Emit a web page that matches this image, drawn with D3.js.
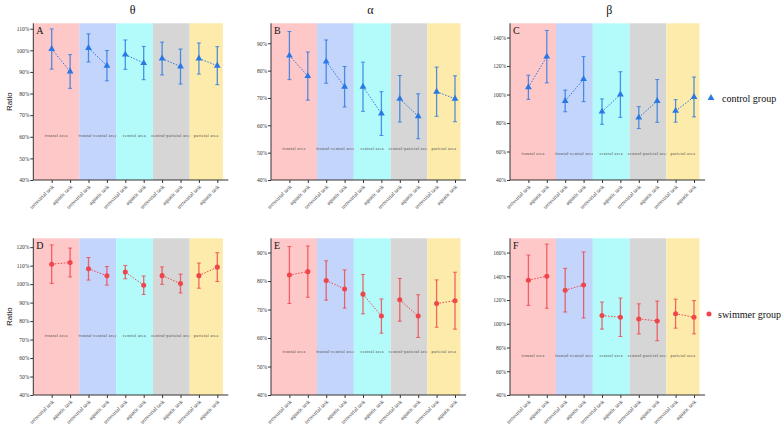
<!DOCTYPE html>
<html>
<head>
<meta charset="utf-8">
<script src="https://cdn.jsdelivr.net/npm/d3@7"></script>
<style>
  body { margin: 0; background: #fff; }
  svg { font-family: "Liberation Serif", "DejaVu Serif", serif; }
</style>
</head>
<body>
<div id="chart"></div>
<script>
// task labels (x categories), repeated for each band
var tasks = ["terrestrial task", "aquatic task"];
var bandCount = 5;
var titles = ["\u03b8", "\u03b1", "\u03b2"];
var panelLetters = ["A", "B", "C", "D", "E", "F"];
var groups = ["control group", "swimmer group"];

// ratio means (%), 10 points per panel: band1 terr, band1 aqua, band2 terr ...
var meanA = [100.6, 90.2, 101.1, 92.9, 98.0, 94.1, 96.2, 92.5, 96.2, 92.9];
var errA  = [9.3, 7.8, 6.5, 7.0, 6.8, 7.7, 7.6, 8.1, 7.2, 8.8];
var meanB = [85.5, 78.0, 83.3, 74.1, 74.1, 64.3, 69.7, 63.3, 72.3, 69.7];
var errB  = [8.8, 8.8, 7.9, 7.4, 9.0, 8.0, 8.5, 8.2, 9.0, 8.4];
var meanC = [105.1, 126.6, 95.5, 110.8, 88.0, 100.0, 83.8, 95.5, 88.5, 98.3];
var errC  = [8.5, 18.4, 7.6, 15.8, 8.9, 16.0, 7.7, 15.0, 7.9, 14.0];
var meanD = [110.8, 111.7, 108.3, 104.5, 106.5, 99.4, 104.6, 100.3, 104.6, 109.2];
var errD  = [10.4, 7.8, 6.1, 5.0, 3.6, 5.0, 4.7, 5.1, 6.8, 7.8];
var meanE = [82.1, 83.3, 80.2, 77.2, 75.4, 67.7, 73.4, 67.7, 72.1, 73.1];
var errE  = [10.0, 9.0, 6.9, 6.7, 6.9, 6.0, 7.5, 7.5, 8.3, 10.0];
var meanF = [136.7, 140.1, 128.3, 132.7, 106.9, 105.5, 104.1, 102.4, 108.5, 105.5];
var errF  = [21.2, 27.0, 18.4, 27.8, 11.4, 16.2, 12.7, 16.7, 12.2, 14.0];

// y tick values per panel
var ticksA = [40, 50, 60, 70, 80, 90, 100, 110];
var ticksB = [40, 50, 60, 70, 80, 90];
var ticksC = [40, 60, 80, 100, 120, 140];
var ticksD = [40, 50, 60, 70, 80, 90, 100, 110, 120];
var ticksE = [40, 50, 60, 70, 80, 90];
var ticksF = [40, 60, 80, 100, 120, 140, 160];

// small note text inside each band (band names)
var bandNotes = ["frontal area", "frontal-central area", "central area", "central-parietal area", "parietal area"];

var bandColors = ["#ffc8c8", "#c3d5fb", "#b3fbfb", "#d6d6d6", "#fdebab"];
var groupColors = ["#2a78e4", "#f0454c"];

var panels = [
  {mean: meanA, err: errA, ticks: ticksA, top: 112.5, row: 0, col: 0, note: 137},
  {mean: meanB, err: errB, ticks: ticksB, top: 97.3,  row: 0, col: 1, note: 150},
  {mean: meanC, err: errC, ticks: ticksC, top: 150,   row: 0, col: 2, note: 155},
  {mean: meanD, err: errD, ticks: ticksD, top: 124.8, row: 1, col: 0, note: 337},
  {mean: meanE, err: errE, ticks: ticksE, top: 95,    row: 1, col: 1, note: 353},
  {mean: meanF, err: errF, ticks: ticksF, top: 172,   row: 1, col: 2, note: 357}
];

var W = 782, H = 430;
var colX = [33.3, 271, 510];
var rowTop = [23.3, 238.3], rowBottom = [180, 395];
var step = 18.4;

var svg = d3.select("#chart").append("svg")
  .attr("width", W).attr("height", H);

var labels = d3.range(bandCount * 2).map(function (i) { return i + ":" + tasks[i % 2]; });

panels.forEach(function (p, pi) {
  var x0 = colX[p.col];
  var yTop = rowTop[p.row], yBot = rowBottom[p.row];
  var color = groupColors[p.row];

  var x = d3.scalePoint()
    .domain(labels)
    .range([x0 + step, x0 + step * 10]);
  var y = d3.scaleLinear()
    .domain([40, p.top])
    .range([yBot, yTop]);

  var g = svg.append("g");

  // coloured bands, one per pair of tasks
  d3.range(bandCount).forEach(function (b) {
    var left = b == 0 ? x0 : (x(labels[2 * b - 1]) + x(labels[2 * b])) / 2;
    var right = b == bandCount - 1 ? x0 + step * 10.3
      : (x(labels[2 * b + 1]) + x(labels[2 * b + 2])) / 2;
    g.append("rect")
      .attr("x", left).attr("y", yTop)
      .attr("width", right - left).attr("height", yBot - yTop)
      .attr("fill", bandColors[b]);
    g.append("text")
      .attr("x", (left + right) / 2).attr("y", p.note)
      .attr("text-anchor", "middle")
      .attr("font-size", 4)
      .attr("letter-spacing", 0.4)
      .attr("fill", "#444")
      .text(bandNotes[b]);
  });

  // axes
  var yAxis = d3.axisLeft(y)
    .tickValues(p.ticks)
    .tickSize(3)
    .tickFormat(function (d) { return d + "%"; });
  var ya = g.append("g")
    .attr("transform", "translate(" + x0 + ",0)")
    .call(yAxis);
  ya.select(".domain").attr("d", "M0," + yTop + "V" + yBot).attr("stroke", "#333");
  ya.selectAll(".tick line").attr("stroke", "#333");
  ya.selectAll(".tick text")
    .attr("font-family", "Liberation Serif")
    .attr("font-size", 5.5)
    .attr("fill", "#333")
    .attr("x", -4);

  var xAxis = d3.axisBottom(x).tickSize(3).tickFormat(function (d) { return d.split(":")[1]; });
  var xa = g.append("g")
    .attr("transform", "translate(0," + yBot + ")")
    .call(xAxis);
  xa.select(".domain").attr("d", "M" + x0 + ",0H" + (x0 + step * 10.6)).attr("stroke", "#333");
  xa.selectAll(".tick line").attr("stroke", "#333");
  xa.selectAll(".tick text")
    .attr("font-family", "Liberation Serif")
    .attr("font-size", 5.5)
    .attr("fill", "#333")
    .attr("text-anchor", "end")
    .attr("dy", 0)
    .attr("transform", "translate(2,7) rotate(-45)")
    .attr("y", 0);

  // dashed connectors within each band
  d3.range(bandCount).forEach(function (b) {
    var i = 2 * b;
    g.append("line")
      .attr("x1", x(labels[i])).attr("y1", y(p.mean[i]))
      .attr("x2", x(labels[i + 1])).attr("y2", y(p.mean[i + 1]))
      .attr("stroke", color)
      .attr("stroke-width", 1)
      .attr("stroke-dasharray", "1.5,1.5");
  });

  // error bars
  var eb = g.selectAll(".eb").data(p.mean).enter().append("g");
  eb.append("line")
    .attr("x1", function (d, i) { return x(labels[i]); })
    .attr("x2", function (d, i) { return x(labels[i]); })
    .attr("y1", function (d, i) { return y(d + p.err[i]); })
    .attr("y2", function (d, i) { return y(d - p.err[i]); })
    .attr("stroke", color).attr("stroke-width", 1.3).attr("opacity", 0.8);
  [1, -1].forEach(function (s) {
    eb.append("line")
      .attr("x1", function (d, i) { return x(labels[i]) - 2; })
      .attr("x2", function (d, i) { return x(labels[i]) + 2; })
      .attr("y1", function (d, i) { return y(d + s * p.err[i]); })
      .attr("y2", function (d, i) { return y(d + s * p.err[i]); })
      .attr("stroke", color).attr("stroke-width", 1).attr("opacity", 0.8);
  });

  // markers
  var sym = d3.symbol().type(p.row == 0 ? d3.symbolTriangle : d3.symbolCircle).size(20);
  g.selectAll(".pt").data(p.mean).enter().append("path")
    .attr("d", sym)
    .attr("transform", function (d, i) { return "translate(" + x(labels[i]) + "," + y(d) + ")"; })
    .attr("fill", color);

  // panel letter
  g.append("text")
    .attr("x", x0 + 3).attr("y", yTop + 11)
    .attr("font-size", 10)
    .attr("fill", "#111")
    .text(panelLetters[pi]);

  // column titles (top row only)
  if (p.row == 0) {
    g.append("text")
      .attr("x", x0 + step * 5.4).attr("y", 14)
      .attr("text-anchor", "middle")
      .attr("font-size", 12)
      .attr("fill", "#111")
      .text(titles[p.col]);
  }

  // y label on first column
  if (p.col == 0) {
    g.append("text")
      .attr("transform", "translate(12," + ((yTop + yBot) / 2) + ") rotate(-90)")
      .attr("text-anchor", "middle")
      .attr("font-size", 8)
      .attr("font-family", "Liberation Sans")
      .attr("fill", "#111")
      .text("Ratio");
  }
});

// legends
groups.forEach(function (name, gi) {
  var ly = gi == 0 ? 98 : 314;
  var sym = d3.symbol().type(gi == 0 ? d3.symbolTriangle : d3.symbolCircle).size(20);
  svg.append("path")
    .attr("d", sym)
    .attr("transform", "translate(" + (gi == 0 ? 711 : 709) + "," + ly + ")")
    .attr("fill", groupColors[gi]);
  svg.append("text")
    .attr("x", gi == 0 ? 722 : 718).attr("y", ly + 3.5)
    .attr("font-size", 10)
    .attr("fill", "#111")
    .text(name);
});
</script>
</body>
</html>
